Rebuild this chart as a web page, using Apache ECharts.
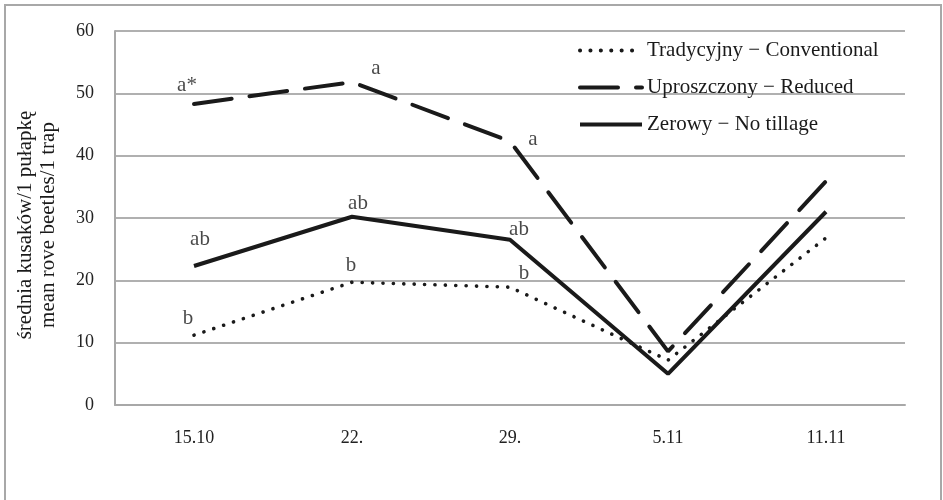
<!DOCTYPE html>
<html>
<head>
<meta charset="utf-8">
<script src="https://cdn.jsdelivr.net/npm/echarts@6/dist/echarts.min.js"></script>
<style>
  html, body { margin: 0; padding: 0; background: #fff; }
  #chart { width: 943px; height: 500px; }
</style>
</head>
<body>
<div id="chart"></div>
<script>
// Sampling dates
var categories = ['15.10', '22.', '29.', '5.11', '11.11'];

// Mean rove beetles per trap, by tillage system
var conventional = [11.2, 19.7, 18.9, 7.2, 26.8];
var reduced = [48.3, 51.8, 42.3, 8.6, 35.9];
var noTillage = [22.3, 30.2, 26.5, 5.0, 31.0];

// Significance letters for each point ('' = none)
var conventionalLetters = ['b', 'b', 'b', '', ''];
var reducedLetters = ['a*', 'a', 'a', '', ''];
var noTillageLetters = ['ab', 'ab', 'ab', '', ''];

var seriesNames = [
  'Tradycyjny \u2212 Conventional',
  'Uproszczony \u2212 Reduced',
  'Zerowy \u2212 No tillage'
];

var yTicks = { min: 0, max: 60, interval: 10 };

// Pixel offsets of the letter labels relative to their points
var letterOffsets = {
  conventional: [[-6, -17], [-1, -17], [14, -14]],
  reduced: [[-7, -18], [24, -14], [23, -2]],
  noTillage: [[6, -27], [6, -13], [9, -10]]
};

var FONT = 'Liberation Serif, Times New Roman, serif';
var INK = '#1a1a1a';

function letterSeries(values, letters, offsets) {
  var data = [];
  for (var i = 0; i < values.length; i++) {
    if (!letters[i]) continue;
    var off = offsets[i] || [0, 0];
    data.push({
      value: [i, values[i]],
      label: { offset: off, formatter: letters[i] }
    });
  }
  return {
    type: 'scatter',
    data: data,
    symbolSize: 1,
    itemStyle: { color: 'rgba(0,0,0,0)' },
    silent: true,
    z: 5,
    label: {
      show: true,
      position: 'inside',
      color: INK,
      fontFamily: FONT,
      fontSize: 21
    }
  };
}

var chart = echarts.init(document.getElementById('chart'), null, { renderer: 'canvas' });

chart.setOption({
  animation: false,
  backgroundColor: '#fff',
  graphic: [{
    type: 'rect',
    shape: { x: 5, y: 5, width: 936, height: 520 },
    style: { fill: 'none', stroke: '#a8a8a8', lineWidth: 2 },
    z: -1
  }],
  grid: { left: 115, right: 38, top: 31, bottom: 95 },
  legend: {
    data: seriesNames,
    orient: 'vertical',
    left: 573,
    top: 35,
    itemWidth: 62,
    itemHeight: 20,
    itemGap: 16,
    itemStyle: { opacity: 0 },
    lineStyle: { width: 4 },
    textStyle: { fontFamily: FONT, fontSize: 21, color: INK }
  },
  xAxis: {
    type: 'category',
    data: categories,
    boundaryGap: true,
    axisLine: { lineStyle: { color: '#a8a8a8', width: 2 } },
    axisTick: { show: false },
    axisLabel: { color: '#222', fontFamily: FONT, fontSize: 18, margin: 24 }
  },
  yAxis: {
    type: 'value',
    min: yTicks.min,
    max: yTicks.max,
    interval: yTicks.interval,
    name: '\u015brednia kusak\u00f3w/1 pu\u0142apk\u0119\nmean rove beetles/1 trap',
    nameLocation: 'middle',
    nameGap: 55,
    nameTextStyle: { fontFamily: FONT, fontSize: 21, color: INK, lineHeight: 23, padding: [0, 14, 0, 0] },
    axisLine: { show: true, lineStyle: { color: '#a8a8a8', width: 2 } },
    axisTick: { show: false },
    axisLabel: { color: '#222', fontFamily: FONT, fontSize: 18, margin: 21 },
    splitLine: { lineStyle: { color: '#b0b0b0', width: 2 } }
  },
  series: [
    {
      name: seriesNames[0],
      type: 'line',
      data: conventional,
      symbol: 'none',
      lineStyle: { color: INK, width: 3.6, type: [0.1, 10.3], cap: 'round' },
      itemStyle: { color: INK },
      z: 3
    },
    {
      name: seriesNames[1],
      type: 'line',
      data: reduced,
      symbol: 'none',
      lineStyle: { color: INK, width: 4, type: [38, 18], cap: 'round' },
      itemStyle: { color: INK },
      z: 3
    },
    {
      name: seriesNames[2],
      type: 'line',
      data: noTillage,
      symbol: 'none',
      lineStyle: { color: INK, width: 4, type: 'solid' },
      itemStyle: { color: INK },
      z: 3
    },
    letterSeries(conventional, conventionalLetters, letterOffsets.conventional),
    letterSeries(reduced, reducedLetters, letterOffsets.reduced),
    letterSeries(noTillage, noTillageLetters, letterOffsets.noTillage)
  ]
});
</script>
</body>
</html>
